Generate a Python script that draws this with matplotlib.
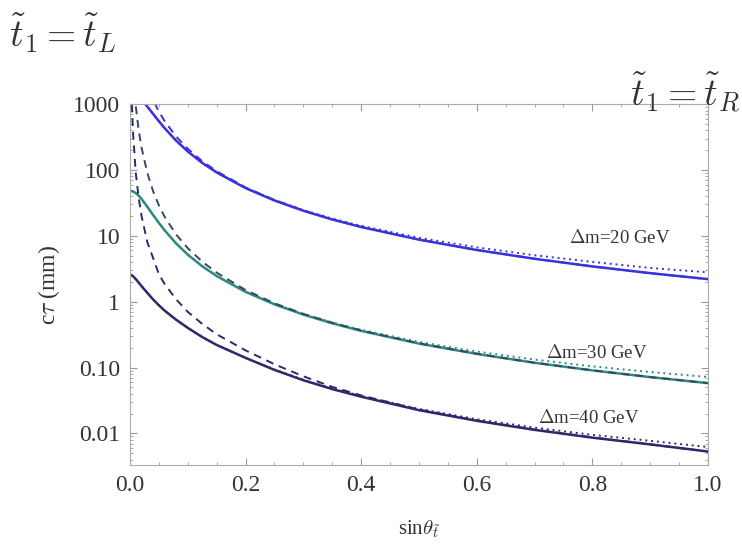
import numpy as np
import matplotlib
matplotlib.use('Agg')
import matplotlib.pyplot as plt
from matplotlib.ticker import FixedLocator, FixedFormatter, MultipleLocator, LogLocator, NullFormatter

plt.rcParams['mathtext.fontset'] = 'cm'

# sin(theta) sample points
x = [0, 0.005, 0.01, 0.015, 0.02, 0.03, 0.04, 0.05, 0.06, 0.08, 0.1, 0.125,
     0.15, 0.2, 0.25, 0.3, 0.35, 0.4, 0.5, 0.6, 0.7, 0.8, 0.9, 1.0]

# dm = 20 GeV
dm20_solid = [1467, 1443, 1375, 1275, 1158, 917, 710, 550, 431, 278, 191, 128,
              91.7, 53.0, 34.4, 24.0, 17.7, 13.6, 8.75, 6.09, 4.48, 3.43, 2.71, 2.2]
dm20_dot = [1467, 1443, 1375, 1275, 1158, 917, 710, 550, 431, 278, 191, 128,
            92.0, 53.5, 34.9, 24.6, 18.3, 14.2, 9.34, 6.68, 5.07, 4.02, 3.25, 2.79]
x_dash20 = x[4:]
dm20_dash = [4050, 1935, 1154, 770, 551, 321, 210, 136,
             95.7, 54.3, 35.0, 24.3, 17.8, 13.7, 8.79, 6.11, 4.49, 3.44, 2.71, 2.2]

# dm = 30 GeV
dm30_solid = [48.3, 47.3, 44.6, 40.7, 36.3, 27.6, 20.7, 15.7, 12.1, 7.63, 5.18, 3.45,
              2.45, 1.41, 0.911, 0.636, 0.469, 0.360, 0.231, 0.161, 0.118, 0.0905, 0.0715, 0.0579]
dm30_dot = [48.3, 47.3, 44.6, 40.7, 36.3, 27.6, 20.7, 15.7, 12.1, 7.63, 5.18, 3.45,
            2.46, 1.42, 0.925, 0.650, 0.483, 0.374, 0.245, 0.175, 0.132, 0.104, 0.0854, 0.0718]
x_dash30 = x[1:]
dm30_dash = [3830, 937, 402, 218, 90.0, 47.5, 29.0, 19.4, 10.4, 6.5, 4.05,
             2.76, 1.50, 0.945, 0.652, 0.478, 0.365, 0.233, 0.162, 0.118, 0.0906, 0.0716, 0.0580]

# dm = 40 GeV
dm40_solid = [2.6, 2.45, 2.2, 1.95, 1.72, 1.36, 1.08, 0.88, 0.73, 0.53, 0.40, 0.29,
              0.22, 0.14, 0.092, 0.064, 0.047, 0.036, 0.0225, 0.0155, 0.0113, 0.0086, 0.0068, 0.0053]
dm40_dot = [2.6, 2.45, 2.2, 1.95, 1.72, 1.36, 1.08, 0.88, 0.73, 0.53, 0.40, 0.29,
            0.22, 0.14, 0.093, 0.065, 0.048, 0.037, 0.0235, 0.0164, 0.0122, 0.0095, 0.0077, 0.0062]
x_dash40 = [0.002, 0.003] + x[1:]
dm40_dash = [2550, 1120, 394, 90, 38, 20, 8.0, 4.6, 2.6, 1.85, 1.08, 0.70, 0.46,
             0.32, 0.182, 0.112, 0.0735, 0.0508, 0.0377, 0.0230, 0.0157, 0.0114, 0.0087, 0.0068, 0.0053]

c20 = '#3a32dc'
c30 = '#2e8a7c'
c40 = '#2c2a6a'

fig = plt.figure(figsize=(7.42, 5.51), dpi=100)
ax = fig.add_axes([0.1752, 0.156, 0.7788, 0.655])

ax.plot(x, dm20_solid, color=c20, lw=1.8)
ax.plot(x, dm20_dot, color=c20, lw=1.4, ls=(0, (1, 2)))
ax.plot(x_dash20, dm20_dash, color=c20, lw=1.4, ls=(0, (4, 3)))

ax.plot(x, dm30_solid, color=c30, lw=1.8)
ax.plot(x, dm30_dot, color=c30, lw=1.4, ls=(0, (1, 2)))
ax.plot(x_dash30, dm30_dash, color='#33486a', lw=1.4, ls=(0, (4, 3)))

ax.plot(x, dm40_solid, color=c40, lw=1.8)
ax.plot(x, dm40_dot, color=c40, lw=1.4, ls=(0, (1, 2)))
ax.plot(x_dash40, dm40_dash, color=c40, lw=1.4, ls=(0, (4, 3)))

ax.set_yscale('log')
ax.set_xlim(0, 1)
ax.set_ylim(0.0033, 1000)

serif = 'Liberation Serif'
ax.yaxis.set_major_locator(FixedLocator([0.01, 0.1, 1, 10, 100, 1000]))
ax.yaxis.set_major_formatter(FixedFormatter(['0.01', '0.10', '1', '10', '100', '1000']))
ax.yaxis.set_minor_locator(LogLocator(base=10, subs=np.arange(2, 10)))
ax.yaxis.set_minor_formatter(NullFormatter())
ax.xaxis.set_major_locator(MultipleLocator(0.2))
ax.xaxis.set_minor_locator(MultipleLocator(0.05))
ax.xaxis.set_major_formatter(plt.FuncFormatter(lambda v, p: '%.1f' % v))

ax.tick_params(which='both', direction='in', top=True, right=True, colors='#999999',
               labelcolor='#333333', labelsize=17, pad=7)
ax.tick_params(which='major', length=5)
ax.tick_params(which='minor', length=2.5)
for lab in ax.get_xticklabels() + ax.get_yticklabels():
    lab.set_family(serif)
for s in ax.spines.values():
    s.set_color('#aaaaaa')

ax.set_ylabel(r'c$\tau$ (mm)', fontsize=17, family=serif, color='#333333', labelpad=8)
ax.set_xlabel(r'sin$\theta_{\tilde{t}}$', fontsize=15, family=serif, color='#333333', labelpad=16)

ax.text(0.848, 9.2, r'$\Delta$m=20 GeV', fontsize=13.5, family=serif, color='#333333', ha='center', va='center')
ax.text(0.808, 0.164, r'$\Delta$m=30 GeV', fontsize=13.5, family=serif, color='#333333', ha='center', va='center')
ax.text(0.794, 0.0169, r'$\Delta$m=40 GeV', fontsize=13.5, family=serif, color='#333333', ha='center', va='center')

fig.text(0.012, 0.94, r'$\tilde{t}_1 = \tilde{t}_L$', fontsize=27, color='#333333', va='center')
fig.text(0.998, 0.833, r'$\tilde{t}_1 = \tilde{t}_R$', fontsize=27, color='#333333', va='center', ha='right')

fig.savefig('out.png', dpi=100)
